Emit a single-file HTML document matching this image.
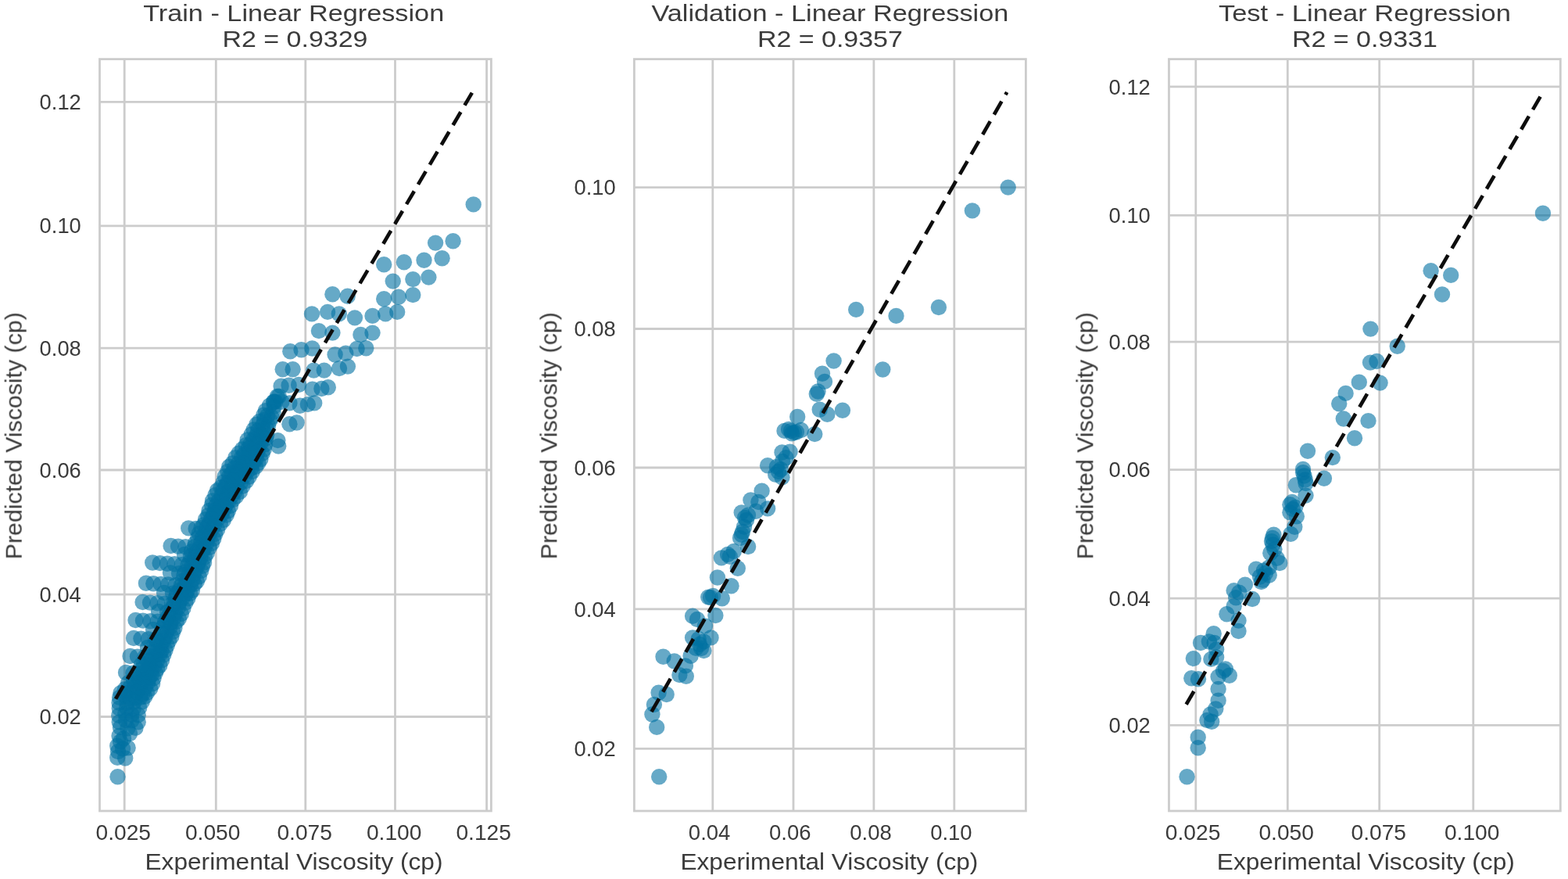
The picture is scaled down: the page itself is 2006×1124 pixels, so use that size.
<!DOCTYPE html>
<html lang="en"><head><meta charset="utf-8"><title>Linear Regression - Predicted vs Experimental Viscosity</title>
<style>
html,body{margin:0;padding:0;background:#fff;}
body{width:2006px;height:1124px;overflow:hidden;}
svg{display:block;}
text{font-family:"Liberation Sans",sans-serif;fill:#3a3a3a;}
.g line{stroke:#cccccc;stroke-width:2.8;}
.sp{fill:none;stroke:#cccccc;stroke-width:2.8;}
.p circle{fill:#0272a2;fill-opacity:0.6;}
.d{stroke:#111111;stroke-width:4.7;stroke-dasharray:19.4 9.95;fill:none;}
.tt{font-size:30px;text-anchor:middle;}
.lb{font-size:30px;text-anchor:middle;}
.tk{font-size:27.5px;}
.xt{text-anchor:middle;}
.yt{text-anchor:end;}
</style></head><body>
<svg width="2006" height="1124" viewBox="0 0 2006 1124">
<defs>
<filter id="tb" x="0" y="0" width="2006" height="1124" filterUnits="userSpaceOnUse"><feGaussianBlur stdDeviation="0.6"/></filter>
<filter id="pb" x="0" y="0" width="2006" height="1124" filterUnits="userSpaceOnUse"><feGaussianBlur stdDeviation="0.6"/></filter>
<filter id="db" x="0" y="0" width="2006" height="1124" filterUnits="userSpaceOnUse"><feGaussianBlur stdDeviation="0.45"/></filter>
</defs>
<rect x="0" y="0" width="2006" height="1124" fill="#ffffff"/>
<g id="panel-train">
<g class="g">
<line x1="159.2" y1="75.6" x2="159.2" y2="1037"/>
<line x1="276.3" y1="75.6" x2="276.3" y2="1037"/>
<line x1="390.8" y1="75.6" x2="390.8" y2="1037"/>
<line x1="505.5" y1="75.6" x2="505.5" y2="1037"/>
<line x1="622.6" y1="75.6" x2="622.6" y2="1037"/>
<line x1="127.5" y1="916.5" x2="628.4" y2="916.5"/>
<line x1="127.5" y1="760.1" x2="628.4" y2="760.1"/>
<line x1="127.5" y1="601" x2="628.4" y2="601"/>
<line x1="127.5" y1="445.2" x2="628.4" y2="445.2"/>
<line x1="127.5" y1="288.8" x2="628.4" y2="288.8"/>
<line x1="127.5" y1="130.4" x2="628.4" y2="130.4"/>
</g>
<g class="p" filter="url(#pb)">
<circle cx="354.7" cy="507" r="10.2"/><circle cx="356.7" cy="506.7" r="10.2"/><circle cx="352.4" cy="513.6" r="10.2"/><circle cx="350.2" cy="514" r="10.2"/><circle cx="350.6" cy="519.8" r="10.2"/><circle cx="344.9" cy="518.8" r="10.2"/>
<circle cx="349.6" cy="527" r="10.2"/><circle cx="339.8" cy="525.2" r="10.2"/><circle cx="347.5" cy="533.3" r="10.2"/><circle cx="342.1" cy="531.7" r="10.2"/><circle cx="337.4" cy="530.6" r="10.2"/><circle cx="345.5" cy="537.4" r="10.2"/>
<circle cx="338" cy="536.9" r="10.2"/><circle cx="331.9" cy="538.9" r="10.2"/><circle cx="343" cy="544.2" r="10.2"/><circle cx="336.1" cy="543.6" r="10.2"/><circle cx="328.4" cy="542.7" r="10.2"/><circle cx="341.7" cy="549.1" r="10.2"/>
<circle cx="336.7" cy="549.8" r="10.2"/><circle cx="330.2" cy="550.3" r="10.2"/><circle cx="324.7" cy="549.4" r="10.2"/><circle cx="341.1" cy="556.6" r="10.2"/><circle cx="333.8" cy="556.2" r="10.2"/><circle cx="327.8" cy="557.1" r="10.2"/>
<circle cx="321.7" cy="555.4" r="10.2"/><circle cx="340.1" cy="560.9" r="10.2"/><circle cx="332.2" cy="562.8" r="10.2"/><circle cx="324.3" cy="562" r="10.2"/><circle cx="316.7" cy="562.5" r="10.2"/><circle cx="339" cy="568.2" r="10.2"/>
<circle cx="333.3" cy="567.4" r="10.2"/><circle cx="326.8" cy="568.3" r="10.2"/><circle cx="320.3" cy="567.9" r="10.2"/><circle cx="314.7" cy="569.3" r="10.2"/><circle cx="337.8" cy="574.5" r="10.2"/><circle cx="330.1" cy="574.6" r="10.2"/>
<circle cx="324.4" cy="575.5" r="10.2"/><circle cx="317.8" cy="573.4" r="10.2"/><circle cx="310.1" cy="574.5" r="10.2"/><circle cx="335.6" cy="579.9" r="10.2"/><circle cx="329.3" cy="578.9" r="10.2"/><circle cx="323.2" cy="580.8" r="10.2"/>
<circle cx="317.4" cy="579.2" r="10.2"/><circle cx="312" cy="581.1" r="10.2"/><circle cx="305.5" cy="579.8" r="10.2"/><circle cx="333.3" cy="587.2" r="10.2"/><circle cx="327.6" cy="587.1" r="10.2"/><circle cx="320.3" cy="585.7" r="10.2"/>
<circle cx="314.2" cy="587.2" r="10.2"/><circle cx="309.1" cy="585" r="10.2"/><circle cx="301.3" cy="585.2" r="10.2"/><circle cx="330.4" cy="592" r="10.2"/><circle cx="324.2" cy="591.3" r="10.2"/><circle cx="316.4" cy="591.8" r="10.2"/>
<circle cx="310.5" cy="592.2" r="10.2"/><circle cx="305" cy="592.6" r="10.2"/><circle cx="297.6" cy="592.4" r="10.2"/><circle cx="327.1" cy="596.7" r="10.2"/><circle cx="321.2" cy="598.8" r="10.2"/><circle cx="314.6" cy="598.9" r="10.2"/>
<circle cx="307.1" cy="597.7" r="10.2"/><circle cx="299.9" cy="598.4" r="10.2"/><circle cx="293.3" cy="596.7" r="10.2"/><circle cx="322.7" cy="603" r="10.2"/><circle cx="316.3" cy="602.7" r="10.2"/><circle cx="309.2" cy="603" r="10.2"/>
<circle cx="303" cy="603.6" r="10.2"/><circle cx="296.5" cy="605.1" r="10.2"/><circle cx="291.3" cy="602.9" r="10.2"/><circle cx="318.8" cy="609.5" r="10.2"/><circle cx="312.5" cy="608.9" r="10.2"/><circle cx="307.3" cy="611.5" r="10.2"/>
<circle cx="300.3" cy="610" r="10.2"/><circle cx="293.4" cy="608.8" r="10.2"/><circle cx="287.7" cy="609.3" r="10.2"/><circle cx="315.1" cy="615" r="10.2"/><circle cx="307.9" cy="617.4" r="10.2"/><circle cx="303" cy="614.9" r="10.2"/>
<circle cx="297" cy="614.6" r="10.2"/><circle cx="291" cy="617.4" r="10.2"/><circle cx="285.7" cy="616.6" r="10.2"/><circle cx="310.6" cy="621.6" r="10.2"/><circle cx="302.9" cy="622.8" r="10.2"/><circle cx="296.4" cy="622.8" r="10.2"/>
<circle cx="288.8" cy="621.2" r="10.2"/><circle cx="282.6" cy="623.5" r="10.2"/><circle cx="306.9" cy="628.9" r="10.2"/><circle cx="300.3" cy="628.7" r="10.2"/><circle cx="292.2" cy="628.1" r="10.2"/><circle cx="285.6" cy="626.6" r="10.2"/>
<circle cx="278" cy="627.3" r="10.2"/><circle cx="302.2" cy="634.6" r="10.2"/><circle cx="296.7" cy="633.8" r="10.2"/><circle cx="290" cy="635.5" r="10.2"/><circle cx="283.4" cy="633.6" r="10.2"/><circle cx="275.4" cy="633.2" r="10.2"/>
<circle cx="297.9" cy="639.1" r="10.2"/><circle cx="292.1" cy="641.2" r="10.2"/><circle cx="286.2" cy="639.9" r="10.2"/><circle cx="279.5" cy="640.9" r="10.2"/><circle cx="272" cy="640.5" r="10.2"/><circle cx="294.9" cy="646.8" r="10.2"/>
<circle cx="289" cy="645.9" r="10.2"/><circle cx="281.7" cy="646.9" r="10.2"/><circle cx="276" cy="646.9" r="10.2"/><circle cx="271.1" cy="645.7" r="10.2"/><circle cx="291.9" cy="653.3" r="10.2"/><circle cx="286.5" cy="651" r="10.2"/>
<circle cx="279.3" cy="651" r="10.2"/><circle cx="274.9" cy="652.9" r="10.2"/><circle cx="267.5" cy="653" r="10.2"/><circle cx="289.8" cy="658.5" r="10.2"/><circle cx="283.3" cy="658.1" r="10.2"/><circle cx="277" cy="656.5" r="10.2"/>
<circle cx="272.9" cy="658.4" r="10.2"/><circle cx="266.2" cy="659.3" r="10.2"/><circle cx="285.9" cy="665.1" r="10.2"/><circle cx="279.1" cy="663.1" r="10.2"/><circle cx="270.5" cy="663.4" r="10.2"/><circle cx="263" cy="664.3" r="10.2"/>
<circle cx="281.8" cy="669.8" r="10.2"/><circle cx="274.1" cy="671.2" r="10.2"/><circle cx="267.4" cy="669.9" r="10.2"/><circle cx="260.7" cy="671.2" r="10.2"/><circle cx="278.1" cy="677.3" r="10.2"/><circle cx="271.3" cy="676.1" r="10.2"/>
<circle cx="264.5" cy="674.6" r="10.2"/><circle cx="257.5" cy="675" r="10.2"/><circle cx="275.2" cy="682.9" r="10.2"/><circle cx="268.1" cy="681.9" r="10.2"/><circle cx="262.3" cy="682.2" r="10.2"/><circle cx="254.7" cy="682.1" r="10.2"/>
<circle cx="273.3" cy="688.9" r="10.2"/><circle cx="265.5" cy="688.2" r="10.2"/><circle cx="258.9" cy="687.3" r="10.2"/><circle cx="253.1" cy="688" r="10.2"/><circle cx="270.9" cy="694.8" r="10.2"/><circle cx="264.8" cy="693.8" r="10.2"/>
<circle cx="257.2" cy="694" r="10.2"/><circle cx="250" cy="694.6" r="10.2"/><circle cx="267.8" cy="700.1" r="10.2"/><circle cx="261.1" cy="701.3" r="10.2"/><circle cx="254.9" cy="701.1" r="10.2"/><circle cx="248.7" cy="699.3" r="10.2"/>
<circle cx="264.8" cy="707.3" r="10.2"/><circle cx="259.1" cy="704.9" r="10.2"/><circle cx="251.3" cy="705.8" r="10.2"/><circle cx="244.8" cy="705.2" r="10.2"/><circle cx="261.8" cy="712.5" r="10.2"/><circle cx="256.5" cy="713.2" r="10.2"/>
<circle cx="249.1" cy="712.6" r="10.2"/><circle cx="243.9" cy="710.9" r="10.2"/><circle cx="261" cy="719.4" r="10.2"/><circle cx="253.8" cy="719.4" r="10.2"/><circle cx="247.8" cy="718" r="10.2"/><circle cx="242.7" cy="719" r="10.2"/>
<circle cx="259" cy="723.8" r="10.2"/><circle cx="252.8" cy="723.5" r="10.2"/><circle cx="245.7" cy="723.5" r="10.2"/><circle cx="240.4" cy="722.6" r="10.2"/><circle cx="257.2" cy="729.8" r="10.2"/><circle cx="249.8" cy="729.5" r="10.2"/>
<circle cx="244.6" cy="730" r="10.2"/><circle cx="237.1" cy="731.5" r="10.2"/><circle cx="254.7" cy="737.4" r="10.2"/><circle cx="247.5" cy="735.3" r="10.2"/><circle cx="241.1" cy="736.8" r="10.2"/><circle cx="235.4" cy="734.9" r="10.2"/>
<circle cx="251.8" cy="743.2" r="10.2"/><circle cx="246.4" cy="741.3" r="10.2"/><circle cx="239" cy="743.3" r="10.2"/><circle cx="233.8" cy="742.6" r="10.2"/><circle cx="248.7" cy="746.7" r="10.2"/><circle cx="243.6" cy="747.8" r="10.2"/>
<circle cx="236.5" cy="749.3" r="10.2"/><circle cx="231.7" cy="748.9" r="10.2"/><circle cx="245.8" cy="755.1" r="10.2"/><circle cx="239.6" cy="755.1" r="10.2"/><circle cx="234.7" cy="753.5" r="10.2"/><circle cx="229.3" cy="755.3" r="10.2"/>
<circle cx="243.1" cy="758.9" r="10.2"/><circle cx="237.9" cy="759.2" r="10.2"/><circle cx="231.5" cy="759" r="10.2"/><circle cx="225.9" cy="759.1" r="10.2"/><circle cx="240.3" cy="765.4" r="10.2"/><circle cx="233" cy="765.4" r="10.2"/>
<circle cx="224.5" cy="765" r="10.2"/><circle cx="237.4" cy="770.6" r="10.2"/><circle cx="229.4" cy="770.5" r="10.2"/><circle cx="222.6" cy="772.2" r="10.2"/><circle cx="234.4" cy="777.9" r="10.2"/><circle cx="228.1" cy="776.8" r="10.2"/>
<circle cx="220.3" cy="777.8" r="10.2"/><circle cx="231.8" cy="785" r="10.2"/><circle cx="224.3" cy="784" r="10.2"/><circle cx="217.6" cy="785.4" r="10.2"/><circle cx="228.8" cy="791" r="10.2"/><circle cx="222.2" cy="790.4" r="10.2"/>
<circle cx="214.5" cy="789.5" r="10.2"/><circle cx="225.7" cy="794.9" r="10.2"/><circle cx="218.2" cy="796.7" r="10.2"/><circle cx="211.6" cy="795" r="10.2"/><circle cx="223.4" cy="803" r="10.2"/><circle cx="217.3" cy="802.5" r="10.2"/>
<circle cx="209" cy="801.2" r="10.2"/><circle cx="221.1" cy="807.9" r="10.2"/><circle cx="213.4" cy="807.8" r="10.2"/><circle cx="206.3" cy="809.4" r="10.2"/><circle cx="219.3" cy="814.1" r="10.2"/><circle cx="211" cy="815.4" r="10.2"/>
<circle cx="203.8" cy="813.6" r="10.2"/><circle cx="216.1" cy="819.6" r="10.2"/><circle cx="208.9" cy="820" r="10.2"/><circle cx="200.9" cy="820" r="10.2"/><circle cx="213.7" cy="825.3" r="10.2"/><circle cx="205.4" cy="825.7" r="10.2"/>
<circle cx="197.4" cy="824.6" r="10.2"/><circle cx="211.6" cy="831.2" r="10.2"/><circle cx="206.4" cy="832.1" r="10.2"/><circle cx="201.2" cy="832.5" r="10.2"/><circle cx="195.6" cy="833.1" r="10.2"/><circle cx="209.3" cy="837.5" r="10.2"/>
<circle cx="204.5" cy="836.9" r="10.2"/><circle cx="198.2" cy="838.4" r="10.2"/><circle cx="191" cy="839" r="10.2"/><circle cx="207" cy="844.4" r="10.2"/><circle cx="201" cy="844.9" r="10.2"/><circle cx="193.6" cy="844.1" r="10.2"/>
<circle cx="188.2" cy="845" r="10.2"/><circle cx="204.3" cy="851" r="10.2"/><circle cx="197.7" cy="851.2" r="10.2"/><circle cx="191.4" cy="850.6" r="10.2"/><circle cx="183.9" cy="848.6" r="10.2"/><circle cx="201.1" cy="855.6" r="10.2"/>
<circle cx="193.6" cy="857" r="10.2"/><circle cx="187.5" cy="856.4" r="10.2"/><circle cx="180.6" cy="856.5" r="10.2"/><circle cx="198.8" cy="860.5" r="10.2"/><circle cx="193.6" cy="862.7" r="10.2"/><circle cx="187.2" cy="862.1" r="10.2"/>
<circle cx="181.7" cy="860.7" r="10.2"/><circle cx="176" cy="861.3" r="10.2"/><circle cx="196.5" cy="867.3" r="10.2"/><circle cx="190.8" cy="867.1" r="10.2"/><circle cx="184.2" cy="869.4" r="10.2"/><circle cx="177.2" cy="867.6" r="10.2"/>
<circle cx="170.6" cy="868.6" r="10.2"/><circle cx="195.1" cy="874.4" r="10.2"/><circle cx="189.2" cy="872.7" r="10.2"/><circle cx="182.2" cy="873.3" r="10.2"/><circle cx="177.4" cy="873.4" r="10.2"/><circle cx="171.1" cy="872.5" r="10.2"/>
<circle cx="164.1" cy="873.3" r="10.2"/><circle cx="192.2" cy="880.6" r="10.2"/><circle cx="185.8" cy="879.4" r="10.2"/><circle cx="178.8" cy="879.9" r="10.2"/><circle cx="172.1" cy="878.9" r="10.2"/><circle cx="166.4" cy="879.1" r="10.2"/>
<circle cx="160" cy="881.3" r="10.2"/><circle cx="188" cy="885.9" r="10.2"/><circle cx="182.4" cy="887.4" r="10.2"/><circle cx="175" cy="885.3" r="10.2"/><circle cx="167.9" cy="887.3" r="10.2"/><circle cx="161.2" cy="886.2" r="10.2"/>
<circle cx="154.4" cy="886.1" r="10.2"/><circle cx="185.2" cy="890.9" r="10.2"/><circle cx="179.3" cy="892" r="10.2"/><circle cx="173.3" cy="892.6" r="10.2"/><circle cx="165.8" cy="893.2" r="10.2"/><circle cx="160.2" cy="890.6" r="10.2"/>
<circle cx="153.1" cy="892" r="10.2"/><circle cx="181.7" cy="897.4" r="10.2"/><circle cx="171.6" cy="897.5" r="10.2"/><circle cx="162.6" cy="899" r="10.2"/><circle cx="152.5" cy="898.8" r="10.2"/><circle cx="178.2" cy="904.9" r="10.2"/>
<circle cx="170.5" cy="906.6" r="10.2"/><circle cx="162.1" cy="905.4" r="10.2"/><circle cx="152.7" cy="905.7" r="10.2"/><circle cx="176.7" cy="914.3" r="10.2"/><circle cx="168.3" cy="913.8" r="10.2"/><circle cx="160.3" cy="912.6" r="10.2"/>
<circle cx="152.2" cy="915" r="10.2"/><circle cx="176.7" cy="923.3" r="10.2"/><circle cx="168.4" cy="921.3" r="10.2"/><circle cx="161" cy="921.1" r="10.2"/><circle cx="152.7" cy="923.4" r="10.2"/><circle cx="173.4" cy="930.9" r="10.2"/>
<circle cx="163.3" cy="931.2" r="10.2"/><circle cx="153.9" cy="930.1" r="10.2"/><circle cx="241.2" cy="675.4" r="10.2"/><circle cx="250.6" cy="676" r="10.2"/><circle cx="218.6" cy="698" r="10.2"/><circle cx="228" cy="698.6" r="10.2"/>
<circle cx="237.4" cy="699.2" r="10.2"/><circle cx="195.2" cy="719.5" r="10.2"/><circle cx="204.6" cy="720.1" r="10.2"/><circle cx="214" cy="720.7" r="10.2"/><circle cx="223.4" cy="721.3" r="10.2"/><circle cx="232.8" cy="721.9" r="10.2"/>
<circle cx="186.9" cy="745.7" r="10.2"/><circle cx="196.3" cy="746.3" r="10.2"/><circle cx="205.7" cy="746.9" r="10.2"/><circle cx="215.1" cy="747.5" r="10.2"/><circle cx="224.5" cy="748.1" r="10.2"/><circle cx="182.6" cy="770" r="10.2"/>
<circle cx="192" cy="770.6" r="10.2"/><circle cx="201.4" cy="771.2" r="10.2"/><circle cx="210.8" cy="771.8" r="10.2"/><circle cx="220.2" cy="772.4" r="10.2"/><circle cx="173.5" cy="793" r="10.2"/><circle cx="182.9" cy="793.6" r="10.2"/>
<circle cx="192.3" cy="794.2" r="10.2"/><circle cx="201.7" cy="794.8" r="10.2"/><circle cx="211.1" cy="795.4" r="10.2"/><circle cx="171" cy="816" r="10.2"/><circle cx="180.4" cy="816.6" r="10.2"/><circle cx="189.8" cy="817.2" r="10.2"/>
<circle cx="199.2" cy="817.8" r="10.2"/><circle cx="166.5" cy="839" r="10.2"/><circle cx="175.9" cy="839.6" r="10.2"/><circle cx="185.3" cy="840.2" r="10.2"/><circle cx="161" cy="860" r="10.2"/><circle cx="170.4" cy="860.6" r="10.2"/>
<circle cx="236" cy="709" r="10.2"/><circle cx="218" cy="732.5" r="10.2"/><circle cx="229" cy="733.1" r="10.2"/><circle cx="210" cy="758" r="10.2"/><circle cx="221" cy="758.6" r="10.2"/><circle cx="203" cy="782" r="10.2"/>
<circle cx="214" cy="782.6" r="10.2"/><circle cx="196" cy="805" r="10.2"/><circle cx="189" cy="828" r="10.2"/><circle cx="181" cy="850" r="10.2"/><circle cx="605.7" cy="261.4" r="10.2"/><circle cx="579.6" cy="308.2" r="10.2"/>
<circle cx="557.1" cy="310.6" r="10.2"/><circle cx="565.6" cy="330.3" r="10.2"/><circle cx="542.5" cy="332.8" r="10.2"/><circle cx="516.9" cy="335.3" r="10.2"/><circle cx="491.2" cy="338.2" r="10.2"/><circle cx="548.4" cy="354.6" r="10.2"/>
<circle cx="528.3" cy="357.1" r="10.2"/><circle cx="502.7" cy="359.6" r="10.2"/><circle cx="528.3" cy="377.1" r="10.2"/><circle cx="509.9" cy="379.7" r="10.2"/><circle cx="491.2" cy="382.2" r="10.2"/><circle cx="425.4" cy="376.3" r="10.2"/>
<circle cx="444.7" cy="378.8" r="10.2"/><circle cx="508.2" cy="398.9" r="10.2"/><circle cx="493.2" cy="401.4" r="10.2"/><circle cx="476.5" cy="403.9" r="10.2"/><circle cx="453.9" cy="406.4" r="10.2"/><circle cx="433.8" cy="401.4" r="10.2"/>
<circle cx="419.1" cy="398.9" r="10.2"/><circle cx="399" cy="401.4" r="10.2"/><circle cx="407.9" cy="423.1" r="10.2"/><circle cx="425.4" cy="425.6" r="10.2"/><circle cx="476.5" cy="425.6" r="10.2"/><circle cx="461.4" cy="428" r="10.2"/>
<circle cx="371.3" cy="449.3" r="10.2"/><circle cx="385.5" cy="447.2" r="10.2"/><circle cx="399.4" cy="445.5" r="10.2"/><circle cx="428.6" cy="453.5" r="10.2"/><circle cx="442.3" cy="451.8" r="10.2"/><circle cx="456.6" cy="446" r="10.2"/>
<circle cx="468.3" cy="445.2" r="10.2"/><circle cx="361.7" cy="472.3" r="10.2"/><circle cx="374.6" cy="472.3" r="10.2"/><circle cx="401.4" cy="473.6" r="10.2"/><circle cx="414.7" cy="473.6" r="10.2"/><circle cx="434" cy="471.1" r="10.2"/>
<circle cx="444.9" cy="468.6" r="10.2"/><circle cx="359.6" cy="493.7" r="10.2"/><circle cx="369.6" cy="492.8" r="10.2"/><circle cx="382.1" cy="492" r="10.2"/><circle cx="399.7" cy="497.8" r="10.2"/><circle cx="411.4" cy="497" r="10.2"/>
<circle cx="419.8" cy="495.3" r="10.2"/><circle cx="350.4" cy="513.7" r="10.2"/><circle cx="360.4" cy="513.7" r="10.2"/><circle cx="370.4" cy="515.4" r="10.2"/><circle cx="383.8" cy="518.7" r="10.2"/><circle cx="393.8" cy="517.1" r="10.2"/>
<circle cx="402.2" cy="515.4" r="10.2"/><circle cx="370.4" cy="542.2" r="10.2"/><circle cx="379.6" cy="540.5" r="10.2"/><circle cx="355.4" cy="563.1" r="10.2"/><circle cx="356.2" cy="570.6" r="10.2"/><circle cx="150.5" cy="993.3" r="10.2"/>
<circle cx="150.2" cy="968.7" r="10.2"/><circle cx="160.2" cy="969.5" r="10.2"/><circle cx="150.2" cy="953.7" r="10.2"/><circle cx="163.6" cy="956.2" r="10.2"/><circle cx="152.5" cy="941" r="10.2"/><circle cx="158" cy="944.5" r="10.2"/>
<circle cx="166" cy="938" r="10.2"/><circle cx="151" cy="961" r="10.2"/><circle cx="157" cy="957.5" r="10.2"/><circle cx="154" cy="948.5" r="10.2"/>
</g>
<line class="d" filter="url(#db)" x1="148" y1="893.6" x2="603.9" y2="118.6" stroke-dashoffset="0"/>
<rect class="sp" x="127.5" y="75.6" width="500.9" height="961.4"/>
<g filter="url(#tb)">
<text class="tt" x="375.7" y="26.8" textLength="385" lengthAdjust="spacingAndGlyphs">Train - Linear Regression</text>
<text class="tt" x="377.5" y="59.7" textLength="186" lengthAdjust="spacingAndGlyphs">R2 = 0.9329</text>
<text class="tk xt" x="157.8" y="1074.2" textLength="70.5" lengthAdjust="spacingAndGlyphs">0.025</text>
<text class="tk xt" x="272.2" y="1074.2" textLength="70.5" lengthAdjust="spacingAndGlyphs">0.050</text>
<text class="tk xt" x="389.7" y="1074.2" textLength="70.5" lengthAdjust="spacingAndGlyphs">0.075</text>
<text class="tk xt" x="504.2" y="1074.2" textLength="70.5" lengthAdjust="spacingAndGlyphs">0.100</text>
<text class="tk xt" x="618.7" y="1074.2" textLength="70.5" lengthAdjust="spacingAndGlyphs">0.125</text>
<text class="tk yt" x="103.8" y="926.1" textLength="53.2" lengthAdjust="spacingAndGlyphs">0.02</text>
<text class="tk yt" x="103.8" y="769.7" textLength="53.2" lengthAdjust="spacingAndGlyphs">0.04</text>
<text class="tk yt" x="103.8" y="610.6" textLength="53.2" lengthAdjust="spacingAndGlyphs">0.06</text>
<text class="tk yt" x="103.8" y="454.8" textLength="53.2" lengthAdjust="spacingAndGlyphs">0.08</text>
<text class="tk yt" x="103.8" y="298.4" textLength="53.2" lengthAdjust="spacingAndGlyphs">0.10</text>
<text class="tk yt" x="103.8" y="140" textLength="53.2" lengthAdjust="spacingAndGlyphs">0.12</text>
<text class="lb" x="376" y="1112" textLength="381" lengthAdjust="spacingAndGlyphs">Experimental Viscosity (cp)</text>
<text class="lb" transform="translate(27.7 557.3) rotate(-90)" x="0" y="0" textLength="316" lengthAdjust="spacingAndGlyphs">Predicted Viscosity (cp)</text>
</g>
</g>
<g id="panel-validation">
<g class="g">
<line x1="911.8" y1="75.6" x2="911.8" y2="1037"/>
<line x1="1015" y1="75.6" x2="1015" y2="1037"/>
<line x1="1117.9" y1="75.6" x2="1117.9" y2="1037"/>
<line x1="1220.8" y1="75.6" x2="1220.8" y2="1037"/>
<line x1="811.4" y1="957.3" x2="1312.4" y2="957.3"/>
<line x1="811.4" y1="778.9" x2="1312.4" y2="778.9"/>
<line x1="811.4" y1="598" x2="1312.4" y2="598"/>
<line x1="811.4" y1="420.5" x2="1312.4" y2="420.5"/>
<line x1="811.4" y1="239.6" x2="1312.4" y2="239.6"/>
</g>
<g class="p" filter="url(#pb)">
<circle cx="1289.7" cy="239.6" r="10.2"/><circle cx="1243.9" cy="269.4" r="10.2"/><circle cx="1095.2" cy="395.9" r="10.2"/><circle cx="1200.9" cy="393" r="10.2"/><circle cx="1146.5" cy="403.9" r="10.2"/><circle cx="1129.3" cy="472.5" r="10.2"/>
<circle cx="1066.6" cy="461.5" r="10.2"/><circle cx="1052" cy="477.8" r="10.2"/><circle cx="1055" cy="487.9" r="10.2"/><circle cx="1044.8" cy="503.8" r="10.2"/><circle cx="1046.5" cy="500.5" r="10.2"/><circle cx="1048.7" cy="523.8" r="10.2"/>
<circle cx="1058.4" cy="529.7" r="10.2"/><circle cx="1077.9" cy="524.7" r="10.2"/><circle cx="1020.2" cy="533" r="10.2"/><circle cx="1003.5" cy="550.9" r="10.2"/><circle cx="1013.1" cy="554.2" r="10.2"/><circle cx="1018.9" cy="552.5" r="10.2"/>
<circle cx="1024.8" cy="550" r="10.2"/><circle cx="1042.3" cy="555.1" r="10.2"/><circle cx="1012" cy="551" r="10.2"/><circle cx="1000.5" cy="578.5" r="10.2"/><circle cx="1010.6" cy="577.6" r="10.2"/><circle cx="1005.5" cy="585.2" r="10.2"/>
<circle cx="982.1" cy="595.2" r="10.2"/><circle cx="993.8" cy="596.9" r="10.2"/><circle cx="998.9" cy="600.2" r="10.2"/><circle cx="992.2" cy="606.9" r="10.2"/><circle cx="1000.5" cy="610.2" r="10.2"/><circle cx="1001" cy="590" r="10.2"/>
<circle cx="996" cy="603" r="10.2"/><circle cx="974.6" cy="627.8" r="10.2"/><circle cx="960.4" cy="639.5" r="10.2"/><circle cx="970.4" cy="642" r="10.2"/><circle cx="982.1" cy="650.4" r="10.2"/><circle cx="948.7" cy="655.4" r="10.2"/>
<circle cx="957" cy="658.7" r="10.2"/><circle cx="967.1" cy="653.7" r="10.2"/><circle cx="952" cy="673.8" r="10.2"/><circle cx="948.7" cy="683.8" r="10.2"/><circle cx="957.1" cy="699" r="10.2"/><circle cx="953" cy="662" r="10.2"/>
<circle cx="950" cy="680" r="10.2"/><circle cx="938.8" cy="705" r="10.2"/><circle cx="922.9" cy="713.4" r="10.2"/><circle cx="933.8" cy="711.7" r="10.2"/><circle cx="943.8" cy="726.8" r="10.2"/><circle cx="917.9" cy="738.5" r="10.2"/>
<circle cx="935.5" cy="749.3" r="10.2"/><circle cx="906.2" cy="763.6" r="10.2"/><circle cx="912.1" cy="761.9" r="10.2"/><circle cx="923.8" cy="765.2" r="10.2"/><circle cx="915.4" cy="787" r="10.2"/><circle cx="886.1" cy="787.8" r="10.2"/>
<circle cx="892" cy="792" r="10.2"/><circle cx="902" cy="800.4" r="10.2"/><circle cx="886.1" cy="815.4" r="10.2"/><circle cx="893.7" cy="817.1" r="10.2"/><circle cx="909.5" cy="815.4" r="10.2"/><circle cx="900.4" cy="820.4" r="10.2"/>
<circle cx="890.3" cy="828.8" r="10.2"/><circle cx="900.4" cy="832.1" r="10.2"/><circle cx="883.6" cy="838.8" r="10.2"/><circle cx="848.5" cy="839.7" r="10.2"/><circle cx="862.7" cy="845.5" r="10.2"/><circle cx="876.9" cy="851.4" r="10.2"/>
<circle cx="869.4" cy="863.1" r="10.2"/><circle cx="877.8" cy="864.7" r="10.2"/><circle cx="842.6" cy="885.7" r="10.2"/><circle cx="852.7" cy="888" r="10.2"/><circle cx="843.2" cy="993.3" r="10.2"/><circle cx="840.2" cy="929.9" r="10.2"/>
<circle cx="834.4" cy="913.5" r="10.2"/><circle cx="836.9" cy="901" r="10.2"/><circle cx="931" cy="709" r="10.2"/><circle cx="909" cy="764" r="10.2"/><circle cx="895" cy="824" r="10.2"/><circle cx="897" cy="829" r="10.2"/>
<circle cx="1016" cy="553" r="10.2"/><circle cx="1009" cy="549" r="10.2"/><circle cx="955" cy="665" r="10.2"/><circle cx="947" cy="688" r="10.2"/>
</g>
<line class="d" filter="url(#db)" x1="833.5" y1="910.2" x2="1288.2" y2="117.9" stroke-dashoffset="0"/>
<rect class="sp" x="811.4" y="75.6" width="501" height="961.4"/>
<g filter="url(#tb)">
<text class="tt" x="1061.9" y="26.8" textLength="457" lengthAdjust="spacingAndGlyphs">Validation - Linear Regression</text>
<text class="tt" x="1061.9" y="59.7" textLength="186" lengthAdjust="spacingAndGlyphs">R2 = 0.9357</text>
<text class="tk xt" x="907.6" y="1074.2" textLength="53.5" lengthAdjust="spacingAndGlyphs">0.04</text>
<text class="tk xt" x="1010.8" y="1074.2" textLength="53.5" lengthAdjust="spacingAndGlyphs">0.06</text>
<text class="tk xt" x="1114" y="1074.2" textLength="53.5" lengthAdjust="spacingAndGlyphs">0.08</text>
<text class="tk xt" x="1216.9" y="1074.2" textLength="53.5" lengthAdjust="spacingAndGlyphs">0.10</text>
<text class="tk yt" x="787.7" y="966.9" textLength="53.2" lengthAdjust="spacingAndGlyphs">0.02</text>
<text class="tk yt" x="787.7" y="788.5" textLength="53.2" lengthAdjust="spacingAndGlyphs">0.04</text>
<text class="tk yt" x="787.7" y="607.6" textLength="53.2" lengthAdjust="spacingAndGlyphs">0.06</text>
<text class="tk yt" x="787.7" y="430.1" textLength="53.2" lengthAdjust="spacingAndGlyphs">0.08</text>
<text class="tk yt" x="787.7" y="249.2" textLength="53.2" lengthAdjust="spacingAndGlyphs">0.10</text>
<text class="lb" x="1060.9" y="1112" textLength="381" lengthAdjust="spacingAndGlyphs">Experimental Viscosity (cp)</text>
<text class="lb" transform="translate(712.4 557.3) rotate(-90)" x="0" y="0" textLength="316" lengthAdjust="spacingAndGlyphs">Predicted Viscosity (cp)</text>
</g>
</g>
<g id="panel-test">
<g class="g">
<line x1="1529.8" y1="75.6" x2="1529.8" y2="1037"/>
<line x1="1647.3" y1="75.6" x2="1647.3" y2="1037"/>
<line x1="1764.7" y1="75.6" x2="1764.7" y2="1037"/>
<line x1="1884.8" y1="75.6" x2="1884.8" y2="1037"/>
<line x1="1495.5" y1="927.4" x2="1996.3" y2="927.4"/>
<line x1="1495.5" y1="765.2" x2="1996.3" y2="765.2"/>
<line x1="1495.5" y1="600.6" x2="1996.3" y2="600.6"/>
<line x1="1495.5" y1="437.2" x2="1996.3" y2="437.2"/>
<line x1="1495.5" y1="275.3" x2="1996.3" y2="275.3"/>
<line x1="1495.5" y1="110.9" x2="1996.3" y2="110.9"/>
</g>
<g class="p" filter="url(#pb)">
<circle cx="1973.9" cy="272.8" r="10.2"/><circle cx="1830.6" cy="346.3" r="10.2"/><circle cx="1856.2" cy="351.9" r="10.2"/><circle cx="1845" cy="376.5" r="10.2"/><circle cx="1753.4" cy="420.6" r="10.2"/><circle cx="1787.7" cy="442.7" r="10.2"/>
<circle cx="1753" cy="463.6" r="10.2"/><circle cx="1761.4" cy="462" r="10.2"/><circle cx="1738.8" cy="488.7" r="10.2"/><circle cx="1765.6" cy="489.6" r="10.2"/><circle cx="1721.6" cy="502.9" r="10.2"/><circle cx="1713.2" cy="516.3" r="10.2"/>
<circle cx="1718.8" cy="535.5" r="10.2"/><circle cx="1750.5" cy="538.1" r="10.2"/><circle cx="1733" cy="560.3" r="10.2"/><circle cx="1673" cy="576.7" r="10.2"/><circle cx="1704.8" cy="585.1" r="10.2"/><circle cx="1667.1" cy="604.3" r="10.2"/>
<circle cx="1669.7" cy="613.5" r="10.2"/><circle cx="1693.9" cy="611.8" r="10.2"/><circle cx="1657.9" cy="620.2" r="10.2"/><circle cx="1670.5" cy="633.6" r="10.2"/><circle cx="1650.4" cy="645.3" r="10.2"/><circle cx="1657.1" cy="648.6" r="10.2"/>
<circle cx="1650.4" cy="655.3" r="10.2"/><circle cx="1658.8" cy="660.3" r="10.2"/><circle cx="1656.3" cy="673.7" r="10.2"/><circle cx="1651.3" cy="682.9" r="10.2"/><circle cx="1629.5" cy="683.8" r="10.2"/><circle cx="1627" cy="692.1" r="10.2"/>
<circle cx="1630.4" cy="702.2" r="10.2"/><circle cx="1625.3" cy="707.2" r="10.2"/><circle cx="1633.7" cy="713.9" r="10.2"/><circle cx="1637.2" cy="720" r="10.2"/><circle cx="1606.9" cy="727.8" r="10.2"/><circle cx="1617" cy="729.5" r="10.2"/>
<circle cx="1623.7" cy="725.5" r="10.2"/><circle cx="1623.7" cy="735.6" r="10.2"/><circle cx="1615.4" cy="741.7" r="10.2"/><circle cx="1613.6" cy="744" r="10.2"/><circle cx="1592.9" cy="747.6" r="10.2"/><circle cx="1578.6" cy="755.1" r="10.2"/>
<circle cx="1585.3" cy="757.6" r="10.2"/><circle cx="1581.2" cy="764.3" r="10.2"/><circle cx="1602.1" cy="766" r="10.2"/><circle cx="1578.6" cy="775.2" r="10.2"/><circle cx="1569.4" cy="785.2" r="10.2"/><circle cx="1584.5" cy="793.6" r="10.2"/>
<circle cx="1584.5" cy="807" r="10.2"/><circle cx="1552.7" cy="810.3" r="10.2"/><circle cx="1536" cy="822" r="10.2"/><circle cx="1546.9" cy="820.4" r="10.2"/><circle cx="1553.6" cy="822" r="10.2"/><circle cx="1556.1" cy="830.4" r="10.2"/>
<circle cx="1526.8" cy="842.1" r="10.2"/><circle cx="1549.4" cy="842.9" r="10.2"/><circle cx="1556.1" cy="840.4" r="10.2"/><circle cx="1567.8" cy="855.5" r="10.2"/><circle cx="1572.8" cy="863.8" r="10.2"/><circle cx="1558.6" cy="865.5" r="10.2"/>
<circle cx="1565" cy="858" r="10.2"/><circle cx="1524.3" cy="867.3" r="10.2"/><circle cx="1533" cy="868.2" r="10.2"/><circle cx="1558.6" cy="881" r="10.2"/><circle cx="1558.6" cy="895.8" r="10.2"/><circle cx="1555.3" cy="906.5" r="10.2"/>
<circle cx="1548.6" cy="913.5" r="10.2"/><circle cx="1544.4" cy="921" r="10.2"/><circle cx="1550.2" cy="922.7" r="10.2"/><circle cx="1532.7" cy="942.8" r="10.2"/><circle cx="1532.7" cy="956.2" r="10.2"/><circle cx="1518.5" cy="993.3" r="10.2"/>
<circle cx="1619" cy="733" r="10.2"/><circle cx="1612" cy="737.5" r="10.2"/><circle cx="1668.5" cy="608.5" r="10.2"/><circle cx="1670.5" cy="618" r="10.2"/><circle cx="1667" cy="600" r="10.2"/><circle cx="1654" cy="651" r="10.2"/>
<circle cx="1653" cy="642" r="10.2"/><circle cx="1628.5" cy="696.5" r="10.2"/><circle cx="1628" cy="688" r="10.2"/>
</g>
<line class="d" filter="url(#db)" x1="1517.6" y1="900.8" x2="1970.6" y2="123.6" stroke-dashoffset="0"/>
<rect class="sp" x="1495.5" y="75.6" width="500.8" height="961.4"/>
<g filter="url(#tb)">
<text class="tt" x="1745.9" y="26.8" textLength="374" lengthAdjust="spacingAndGlyphs">Test - Linear Regression</text>
<text class="tt" x="1745.9" y="59.7" textLength="186" lengthAdjust="spacingAndGlyphs">R2 = 0.9331</text>
<text class="tk xt" x="1526.1" y="1074.2" textLength="70.5" lengthAdjust="spacingAndGlyphs">0.025</text>
<text class="tk xt" x="1645.7" y="1074.2" textLength="70.5" lengthAdjust="spacingAndGlyphs">0.050</text>
<text class="tk xt" x="1763.8" y="1074.2" textLength="70.5" lengthAdjust="spacingAndGlyphs">0.075</text>
<text class="tk xt" x="1883.2" y="1074.2" textLength="70.5" lengthAdjust="spacingAndGlyphs">0.100</text>
<text class="tk yt" x="1471.8" y="937" textLength="53.2" lengthAdjust="spacingAndGlyphs">0.02</text>
<text class="tk yt" x="1471.8" y="774.8" textLength="53.2" lengthAdjust="spacingAndGlyphs">0.04</text>
<text class="tk yt" x="1471.8" y="610.2" textLength="53.2" lengthAdjust="spacingAndGlyphs">0.06</text>
<text class="tk yt" x="1471.8" y="446.8" textLength="53.2" lengthAdjust="spacingAndGlyphs">0.08</text>
<text class="tk yt" x="1471.8" y="284.9" textLength="53.2" lengthAdjust="spacingAndGlyphs">0.10</text>
<text class="tk yt" x="1471.8" y="120.5" textLength="53.2" lengthAdjust="spacingAndGlyphs">0.12</text>
<text class="lb" x="1747.3" y="1112" textLength="381" lengthAdjust="spacingAndGlyphs">Experimental Viscosity (cp)</text>
<text class="lb" transform="translate(1398.4 557.3) rotate(-90)" x="0" y="0" textLength="316" lengthAdjust="spacingAndGlyphs">Predicted Viscosity (cp)</text>
</g>
</g>
</svg></body></html>
